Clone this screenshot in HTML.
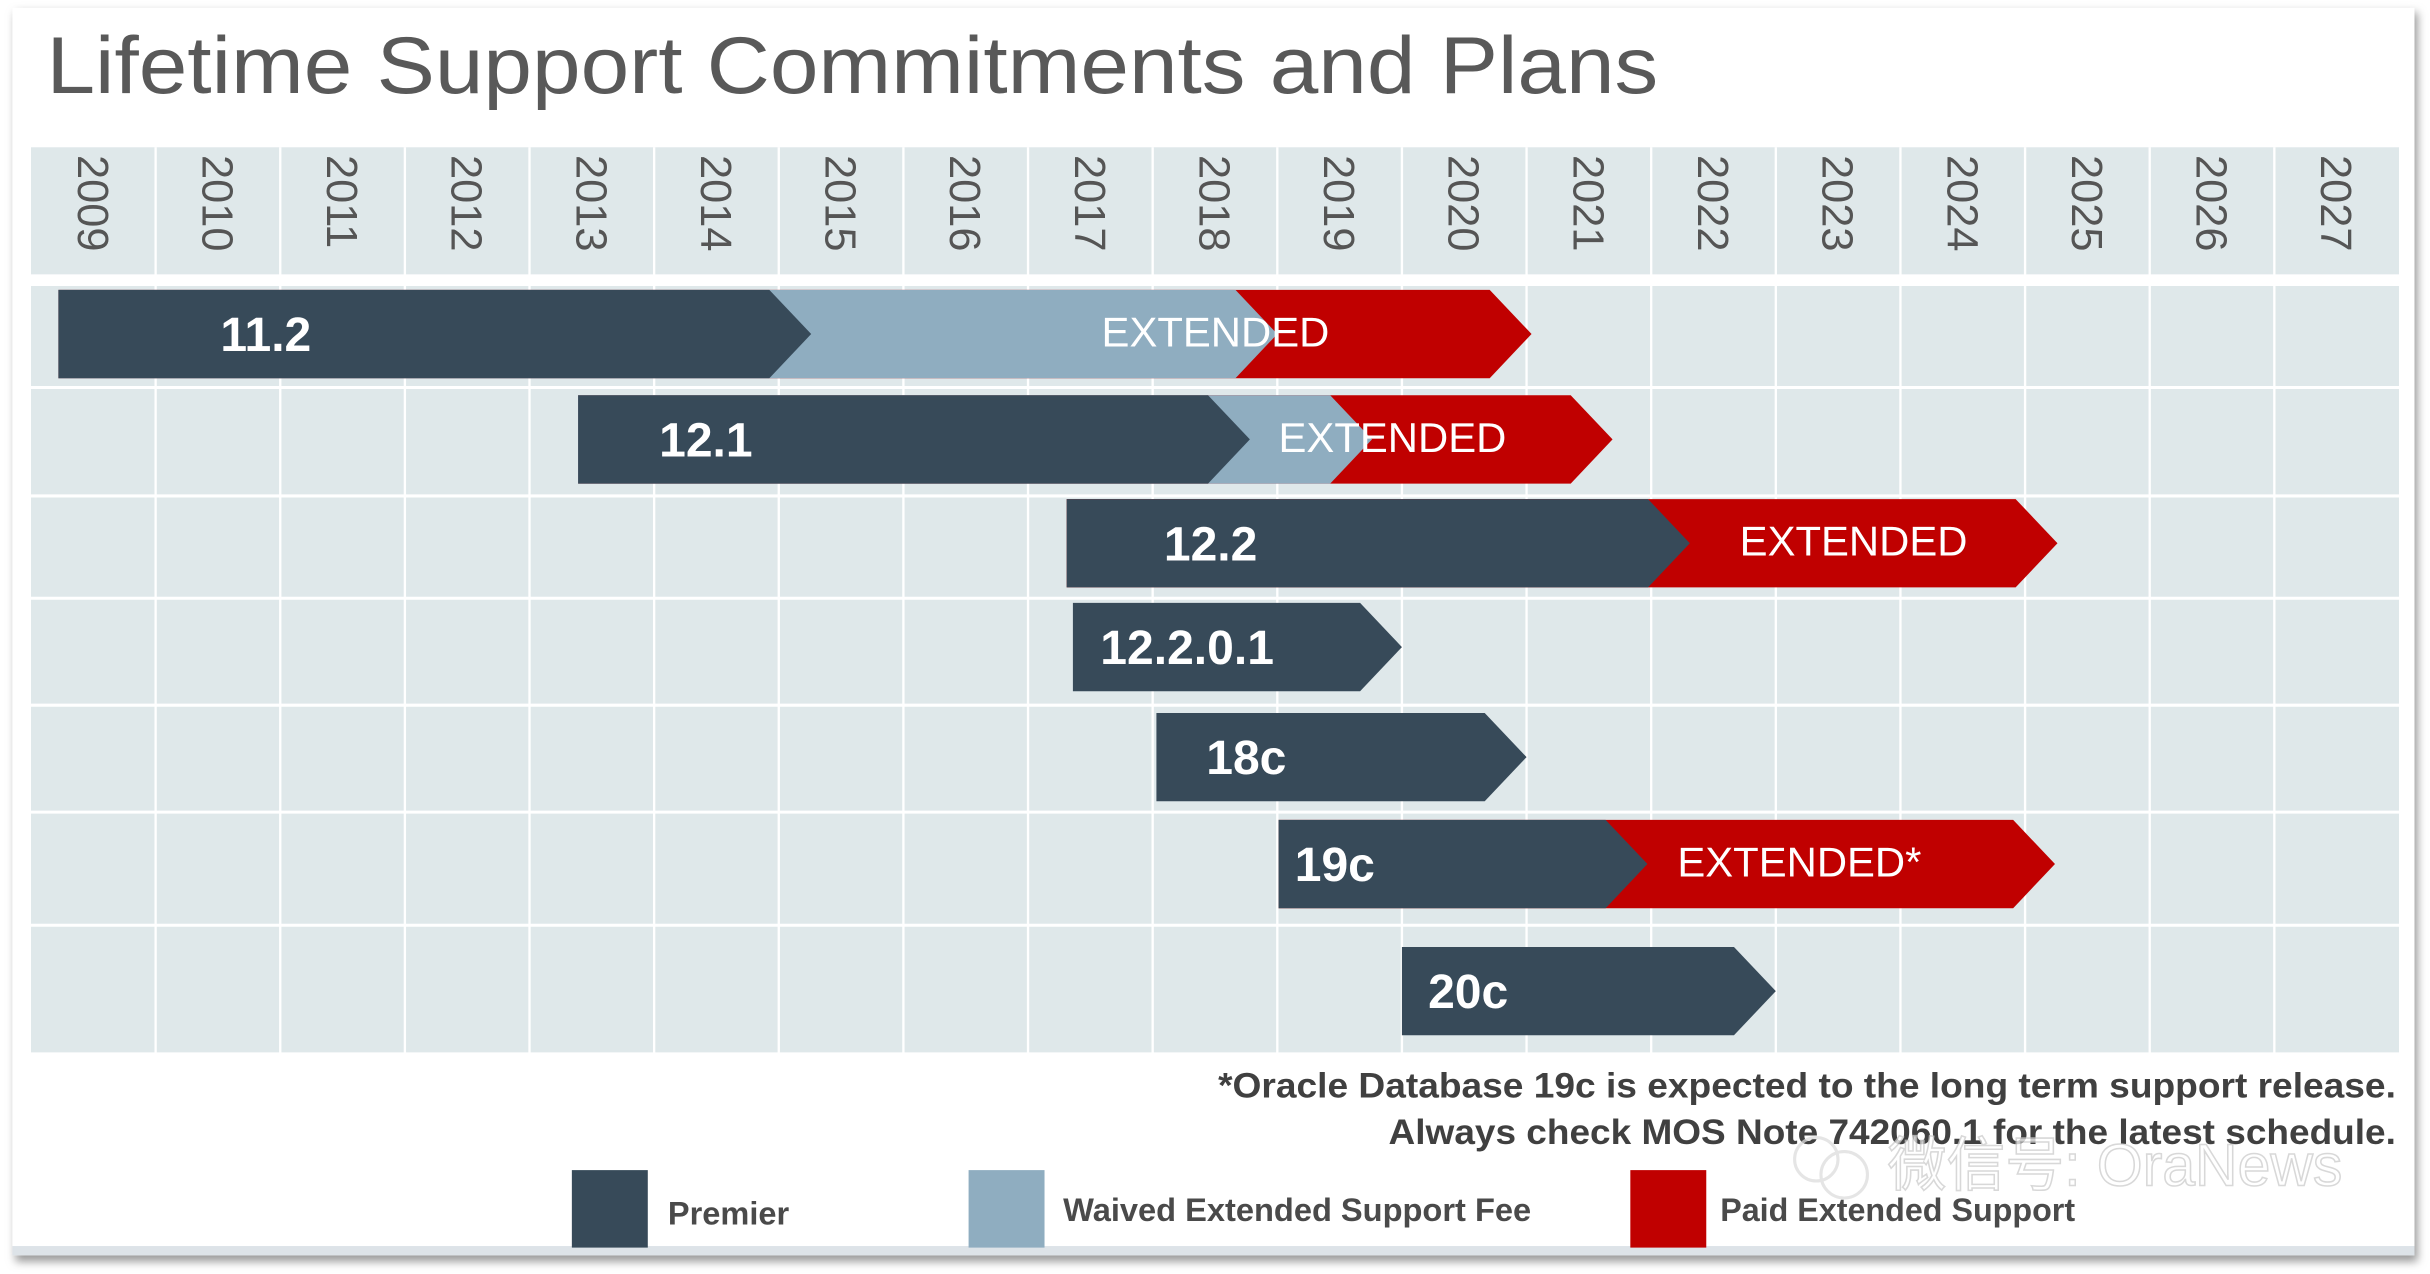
<!DOCTYPE html>
<html><head><meta charset="utf-8"><style>
html,body{margin:0;padding:0;background:#fff}
svg{display:block}
text{font-family:"Liberation Sans Narrow","Liberation Sans","Noto Sans CJK SC",sans-serif}
</style></head><body>
<svg id="chart" width="2430" height="1274" viewBox="0 0 1568 822" xmlns="http://www.w3.org/2000/svg">
<defs><filter id="sh" x="-5%" y="-5%" width="110%" height="110%"><feGaussianBlur stdDeviation="3"/></filter></defs>
<rect x="10" y="8" width="1550" height="806" fill="#999" filter="url(#sh)"/>
<rect x="8" y="5" width="1550" height="805" fill="#fff"/>
<rect x="8" y="804" width="1550" height="6" fill="#dde3e8"/>
<text x="30" y="60" font-size="52" fill="#595959" style="font-family:'Liberation Sans',sans-serif" textLength="1040" lengthAdjust="spacingAndGlyphs">Lifetime Support Commitments and Plans</text>
<rect x="20" y="95" width="1528" height="82" fill="#dfe8ea"/>
<rect x="20" y="182" width="1528" height="498" fill="#dfe8ea"/>
<g id="grid"></g>
<g id="years"></g>
<g id="bars"></g>
<text x="1546" y="708" text-anchor="end" font-size="23" fill="#404040" font-weight="bold" textLength="760" lengthAdjust="spacingAndGlyphs">*Oracle Database  19c is expected to the long term support release.</text>
<text x="1546" y="738" text-anchor="end" font-size="23" fill="#404040" font-weight="bold" textLength="650" lengthAdjust="spacingAndGlyphs">Always check MOS  Note 742060.1 for the latest schedule.</text>
<g>
<rect x="369" y="755" width="49" height="50" fill="#374a59"/>
<text x="431" y="790" font-size="21" font-weight="bold" fill="#4a4a4a">Premier</text>
<rect x="625" y="755" width="49" height="50" fill="#8fadc0"/>
<text x="686" y="788" font-size="21" font-weight="bold" fill="#4a4a4a" textLength="302" lengthAdjust="spacingAndGlyphs">Waived Extended Support Fee</text>
<rect x="1052" y="755" width="49" height="50" fill="#c00000"/>
<text x="1110" y="788" font-size="21" font-weight="bold" fill="#4a4a4a" textLength="229" lengthAdjust="spacingAndGlyphs">Paid Extended Support</text>
</g>
<g opacity="0.75">
<circle cx="1172" cy="748" r="14" fill="none" stroke="#ddd" stroke-width="2"/>
<circle cx="1190" cy="758" r="15" fill="none" stroke="#ddd" stroke-width="2"/>
<text x="1218" y="765" font-size="38" fill="#fff" stroke="#ccc" stroke-width="1" style="font-family:'Liberation Sans','Noto Sans CJK SC',sans-serif">微信号: OraNews</text>
</g>
</svg>
<script>
const years = [2009,2010,2011,2012,2013,2014,2015,2016,2017,2018,2019,2020,2021,2022,2023,2024,2025,2026,2027];
const releases = ["11.2","12.1","12.2","12.2.0.1","18c","19c","20c"];
const startYear = [2009.22,2013.39,2017.31,2017.36,2018.03,2019.01,2020.0];
const premierEnd = [2015.26,2018.78,2022.31,2020.0,2021.0,2021.97,2023.0];
const waivedEnd = [2019.0,2019.76,null,null,null,null,null];
const paidEnd = [2021.04,2021.69,2025.26,null,null,2025.24,null];
const labelYear = [2010.52,2014.04,2018.09,2017.58,2018.43,2019.14,2020.21];
const extLabel = ["EXTENDED","EXTENDED","EXTENDED",null,null,"EXTENDED*",null];
const extLabelYear = [2017.59,2019.01,2022.71,null,null,2022.21,null];

const NS="http://www.w3.org/2000/svg";
const X0=20, COLW=80.42;
const x = y => X0 + (y-2009)*COLW;
const rowTop=[187,255,322,389,460,529,611], BH=57, TIP=27;
const rowLines=[182,250,320,386,455,524,597,680];
function mk(tag,attrs,parent){const e=document.createElementNS(NS,tag);for(const k in attrs)e.setAttribute(k,attrs[k]);parent.appendChild(e);return e;}
const grid=document.getElementById('grid'), yl=document.getElementById('years'), bars=document.getElementById('bars');
for(let i=1;i<years.length;i++){
  const l=mk('line',{x1:x(years[i]),x2:x(years[i]),y1:95,y2:680,stroke:'#fff','stroke-width':1.5},grid);
  
  
}
rowLines.forEach((ry,i)=>{
  const l=mk('line',{x1:20,x2:1548,y1:ry,y2:ry,stroke:'#fff','stroke-width':i==0?5:2},grid);
  
  
});
years.forEach(yr=>{
  const cx=x(yr)+COLW/2;
  const t=mk('text',{x:0,y:0,'font-size':28,fill:'#555',transform:`translate(${cx-10},100) rotate(90)`,style:"font-family:'Liberation Sans',sans-serif"},yl);
  t.textContent=yr;
  
  
});
function chev(x0,xe,top,fill,name){
  const b=top+BH,m=top+BH/2;
  const p=mk('polygon',{points:`${x0},${top} ${xe-TIP},${top} ${xe},${m} ${xe-TIP},${b} ${x0},${b}`,fill:fill},bars);
  
  
}
releases.forEach((r,i)=>{
  const top=rowTop[i], x0=x(startYear[i]);
  if(paidEnd[i]!=null) chev(x0,x(paidEnd[i]),top,'#c00000','paid-extended-bar');
  if(waivedEnd[i]!=null) chev(x0,x(waivedEnd[i]),top,'#8fadc0','waived-extended-bar');
  chev(x0,x(premierEnd[i]),top,'#374a59','premier-bar');
  const t=mk('text',{x:x(labelYear[i]),y:top+BH/2+11,'font-size':31,'font-weight':'bold',fill:'#fff'},bars);
  t.textContent=r;
  
  
  if(extLabel[i]){
    const e=mk('text',{x:x(extLabelYear[i]),y:top+BH/2+8,'font-size':27,fill:'#fff'},bars);
    e.textContent=extLabel[i];
    
    
  }
});
</script>
</body></html>
